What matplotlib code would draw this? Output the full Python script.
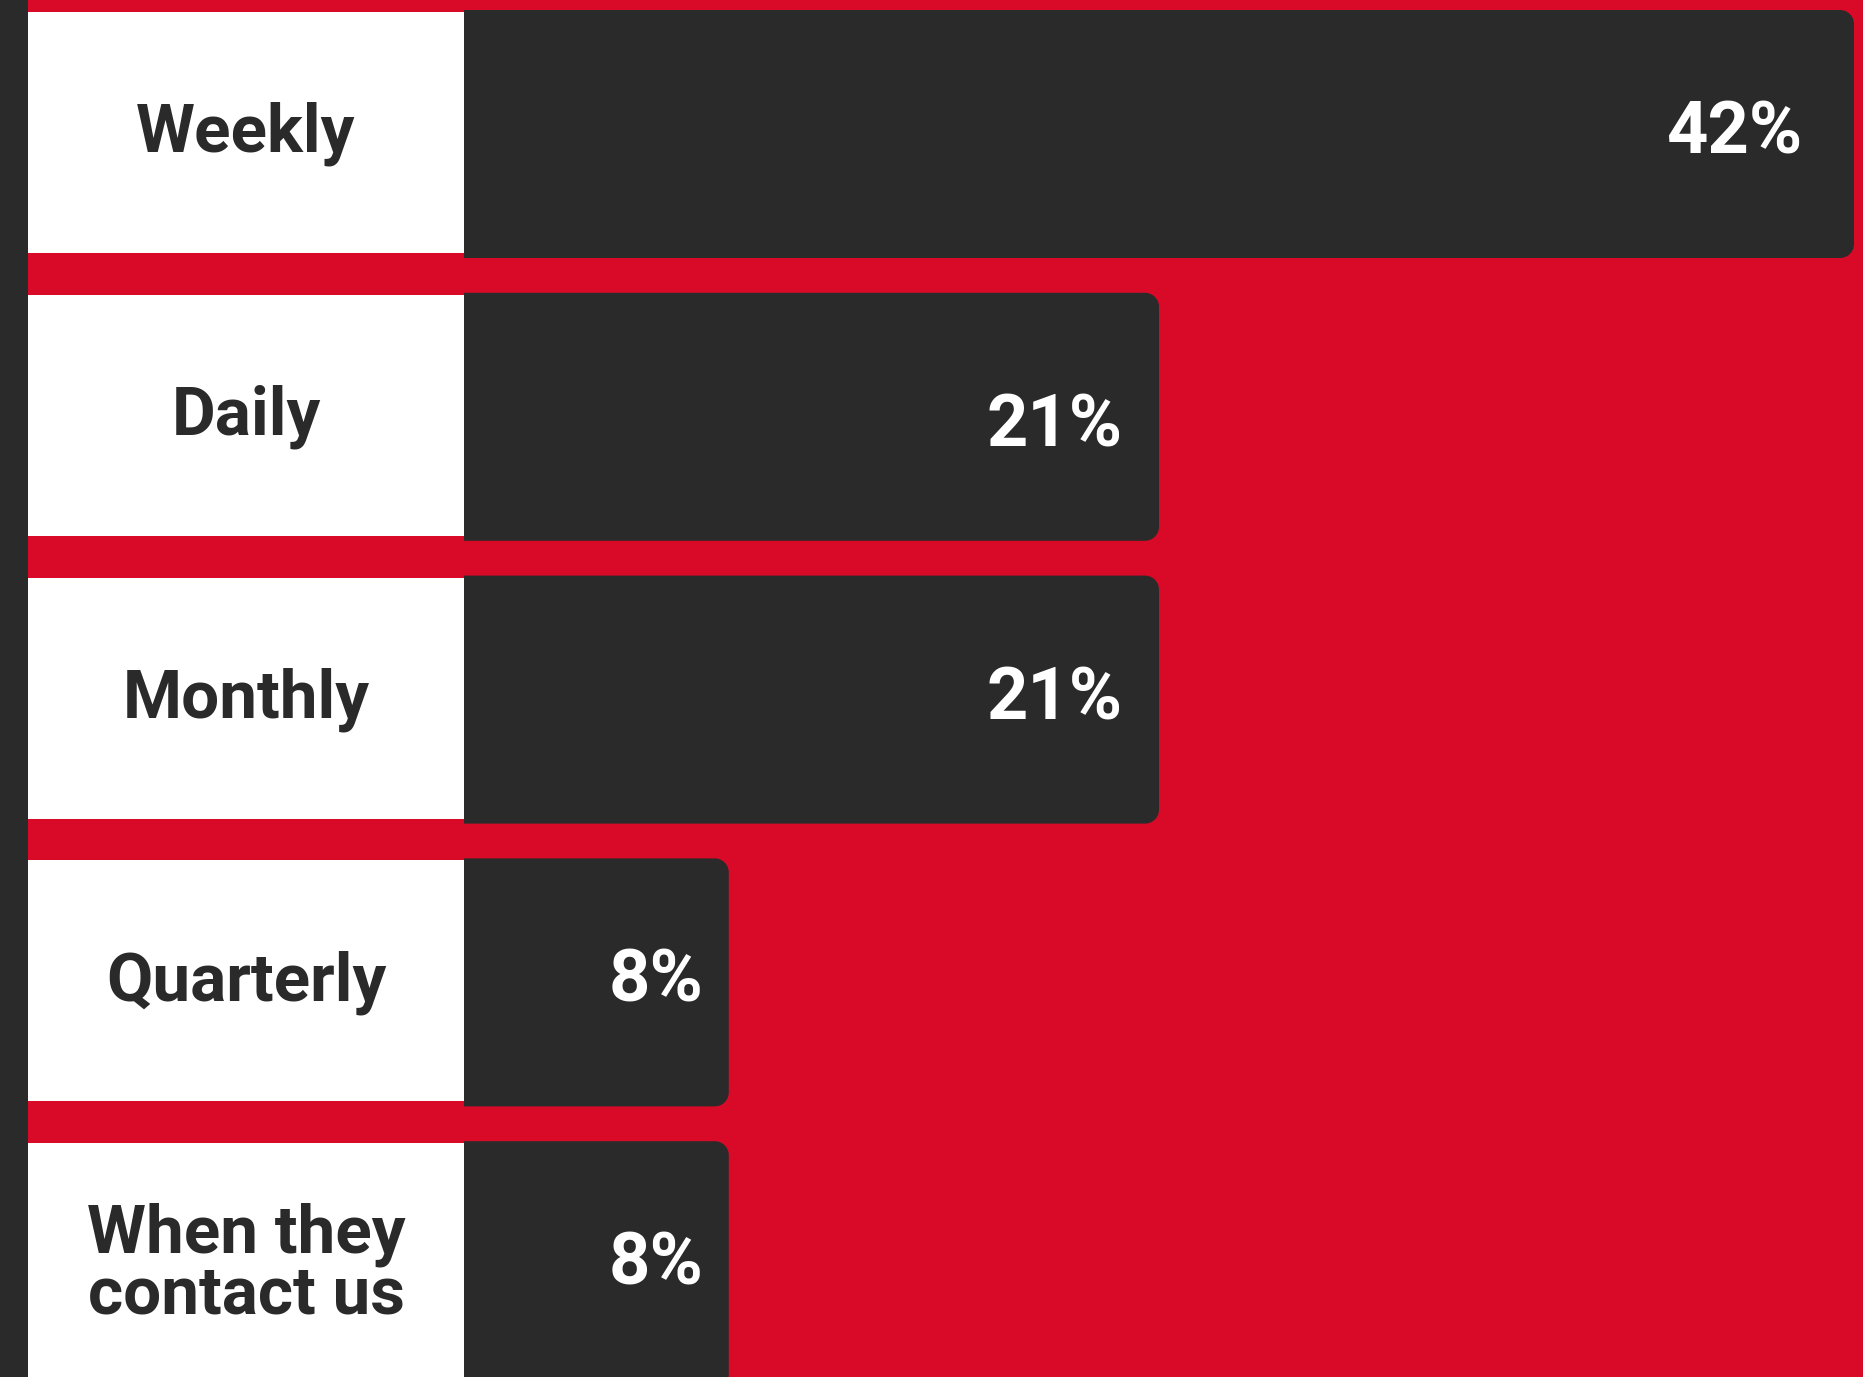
import matplotlib
matplotlib.use("Agg")
import matplotlib.pyplot as plt
from matplotlib.path import Path
from matplotlib.patches import PathPatch, Rectangle

# Survey answers: how often customers are contacted
categories = ["Weekly", "Daily", "Monthly", "Quarterly", "When they\ncontact us"]
shares = [42, 21, 21, 8, 8]
value_labels = ["42%", "21%", "21%", "8%", "8%"]

RED = "#D80A27"
DARK = "#2A2A2A"
WHITE = "#FFFFFF"

W_PX, H_PX = 1863, 1377
DPI = 100

# Layout in pixels
strip_w = 28          # dark strip on the far left
bar_x0 = 464          # where the bars start (end of label panel)
bar_xmax = 1854       # where the longest bar ends
row0_center = 134
row_pitch = 282.8
bar_h = 248
corner_r = 14
label_pads = [52, 36, 36, 25, 25]   # gap between value text and bar end
label_dy = [0, -10, 0, 0, 0]         # small vertical nudges of value text

plt.rcParams["font.family"] = ["Roboto", "DejaVu Sans"]

fig = plt.figure(figsize=(W_PX / DPI, H_PX / DPI), dpi=DPI)
fig.patch.set_facecolor(RED)
ax = fig.add_axes([0, 0, 1, 1])
ax.set_facecolor(RED)
ax.axis("off")

sx = (bar_xmax - bar_x0) / max(shares)   # pixels per percentage point
sy = row_pitch                            # pixels per row
ax.set_xlim(-bar_x0 / sx, (W_PX - bar_x0) / sx)
ax.set_ylim((H_PX - row0_center) / sy, -row0_center / sy)

h = bar_h / sy
rx, ry = corner_r / sx, corner_r / sy
k = 0.5523
panel_left = -(bar_x0 - strip_w) / sx


def right_rounded_bar(y, width):
    y0, y1 = y - h / 2, y + h / 2
    verts = [
        (0, y0), (width - rx, y0),
        (width - rx + k * rx, y0), (width, y0 + ry - k * ry), (width, y0 + ry),
        (width, y1 - ry),
        (width, y1 - ry + k * ry), (width - rx + k * rx, y1), (width - rx, y1),
        (0, y1), (0, y0),
    ]
    codes = [Path.MOVETO, Path.LINETO,
             Path.CURVE4, Path.CURVE4, Path.CURVE4,
             Path.LINETO,
             Path.CURVE4, Path.CURVE4, Path.CURVE4,
             Path.LINETO, Path.CLOSEPOLY]
    return PathPatch(Path(verts, codes), facecolor=DARK, edgecolor="none", zorder=2)


for i, (cat, val, lab) in enumerate(zip(categories, shares, value_labels)):
    y = i
    ax.add_patch(right_rounded_bar(y, val))
    # white label panel
    top = y - h / 2 + 2 / sy
    bottom = y + h / 2 - 5 / sy
    ax.add_patch(Rectangle((panel_left, top), -panel_left, bottom - top,
                           facecolor=WHITE, edgecolor="none", zorder=2))
    ax.text(panel_left / 2, y, cat, ha="center", va="center", fontsize=48.5,
            fontweight="bold", color=DARK, linespacing=0.92, zorder=3)
    ax.annotate(lab, xy=(val, y), xytext=(-label_pads[i], label_dy[i]),
                textcoords="offset pixels", ha="right", va="center",
                fontsize=52, fontweight="bold", color=WHITE, zorder=3)

# dark strip down the left edge
ax.add_patch(Rectangle((0, 0), strip_w / W_PX, 1, transform=ax.transAxes,
                       facecolor=DARK, edgecolor="none", zorder=4))

fig.savefig("out.png", dpi=DPI, facecolor=RED)
